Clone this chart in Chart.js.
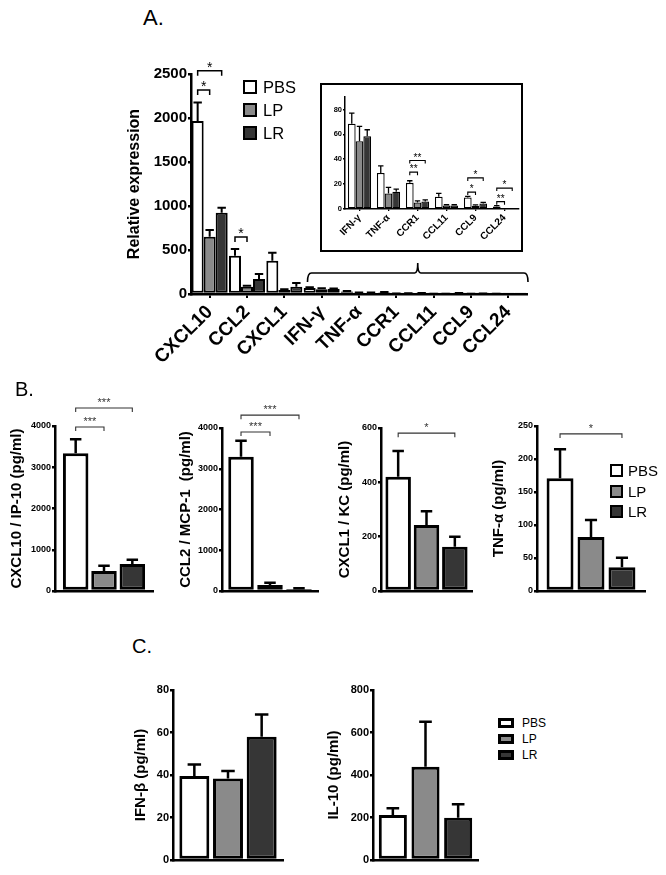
<!DOCTYPE html>
<html><head><meta charset="utf-8">
<script src="https://cdn.jsdelivr.net/npm/chart.js@4.4.0/dist/chart.umd.min.js"></script>
<style>
html,body{margin:0;padding:0;background:#fff;}
#wrap{position:relative;width:666px;height:875px;overflow:hidden;background:#fff;font-family:'Liberation Sans',Arial,Helvetica,sans-serif;color:#000;}
canvas{position:absolute;}
.lbl{position:absolute;line-height:1;white-space:nowrap;}
.box{position:absolute;box-sizing:border-box;border-style:solid;border-color:#000;}
</style></head>
<body><div id="wrap"></div>
<script>
// ---------------- DATA ----------------
const groups = ['PBS', 'LP', 'LR'];

// Panel A (relative expression)
const catsA = ['CXCL10', 'CCL2', 'CXCL1', 'IFN-γ', 'TNF-α', 'CCR1', 'CCL11', 'CCL9', 'CCL24'];
const pbsA = [1966, 435, 378, 68.5, 29, 21, 9.9, 9.3, 2.1];
const lpA  = [650, 83, 45, 54.4, 12.5, 5.3, 2.9, 2.7, 0.3];
const lrA  = [924, 170, 83, 58.4, 13.9, 6.1, 2.9, 4.5, 0.5];
const pbsAErr = [210, 76, 92, 8.5, 5.7, 1.7, 2.6, 0.8, 0.6];
const lpAErr  = [77, 10, 8, 12, 4.8, 1.2, 0.5, 0.6, 0];
const lrAErr  = [57, 57, 42, 5.3, 2.1, 1.2, 0.5, 0.8, 0];
const ticksA = [0, 500, 1000, 1500, 2000, 2500];
const ticksInset = [0, 20, 40, 60, 80];

// Panel B (pg/ml)
const catsB = ['CXCL10 / IP-10 (pg/ml)', 'CCL2 / MCP-1  (pg/ml)', 'CXCL1 / KC (pg/ml)', 'TNF-α (pg/ml)'];
const pbsB = [3338, 3297, 421, 170.7];
const lpB  = [485, 147, 243, 82];
const lrB  = [655, 49, 163, 35.8];
const pbsBErr = [339, 392, 94, 44];
const lpBErr  = [129, 57, 51, 25.6];
const lrBErr  = [105, 21, 37, 14.7];
const ticksB = [[0, 1000, 2000, 3000, 4000], [0, 1000, 2000, 3000, 4000], [0, 200, 400, 600], [0, 50, 100, 150, 200, 250]];

// Panel C (pg/ml)
const catsC = ['IFN-β (pg/ml)', 'IL-10 (pg/ml)'];
const pbsC = [39.5, 212];
const lpC  = [38.4, 439];
const lrC  = [58, 199];
const pbsCErr = [5.5, 31];
const lpCErr  = [3.5, 212];
const lrCErr  = [10.5, 63];
const ticksC = [[0, 20, 40, 60, 80], [0, 200, 400, 600, 800]];

// significance brackets (category, from-series, to-series, level, text)
const sigA = [{cat:0, from:0, to:1, y:2318, label:'*'}, {cat:0, from:0, to:2, y:2537, label:'*'}, {cat:1, from:0, to:1, y:648, label:'*'}];
const sigInset = [{cat:2, from:0, to:1, y:29.6, label:'**'}, {cat:2, from:0, to:2, y:39, label:'**'},
                  {cat:4, from:0, to:1, y:13.6, label:'*'}, {cat:4, from:0, to:2, y:25, label:'*'},
                  {cat:5, from:0, to:1, y:5.9, label:'**'}, {cat:5, from:0, to:2, y:16.8, label:'*'}];
const sigB = [
  [{cat:0, from:0, to:1, y:3976, label:'***'}, {cat:0, from:0, to:2, y:4436, label:'***'}],
  [{cat:0, from:0, to:1, y:3903, label:'***'}, {cat:0, from:0, to:2, y:4315, label:'***'}],
  [{cat:0, from:0, to:2, y:581, label:'*'}],
  [{cat:0, from:0, to:2, y:238, label:'*'}]
];

// ---------------- STYLE ----------------
const FILL = ['#ffffff', '#8a8a8a', '#363636'];
const FAM = "'Liberation Sans', Arial, Helvetica, sans-serif";
Chart.defaults.font.family = FAM;
Chart.defaults.color = '#000';
const wrap = document.getElementById('wrap');

const annot = {
  id: 'annot',
  afterDatasetsDraw(chart, args, o) {
    const ctx = chart.ctx, ys = chart.scales.y, xs = chart.scales.x, ca = chart.chartArea;
    ctx.save();
    chart.data.datasets.forEach((ds, di) => {
      const meta = chart.getDatasetMeta(di);
      meta.data.forEach((bar, i) => {
        const e = ds.errors ? ds.errors[i] : 0;
        if (!e) return;
        const v = ds.data[i];
        const yE = ys.getPixelForValue(v + e);
        const cap = bar.width * o.capRatio / 2;
        ctx.strokeStyle = '#000'; ctx.lineWidth = o.errWidth; ctx.lineCap = 'butt';
        ctx.beginPath();
        ctx.moveTo(bar.x, bar.y); ctx.lineTo(bar.x, yE);
        ctx.moveTo(bar.x - cap, yE); ctx.lineTo(bar.x + cap, yE);
        ctx.stroke();
      });
    });
    (o.brackets || []).forEach(b => {
      const x1 = chart.getDatasetMeta(b.from).data[b.cat].x;
      const x2 = chart.getDatasetMeta(b.to).data[b.cat].x;
      const yy = ys.getPixelForValue(b.y);
      ctx.strokeStyle = o.brColor; ctx.lineWidth = o.brWidth;
      ctx.beginPath();
      ctx.moveTo(x1, yy + o.tick); ctx.lineTo(x1, yy); ctx.lineTo(x2, yy); ctx.lineTo(x2, yy + o.tick);
      ctx.stroke();
      ctx.fillStyle = o.brColor;
      ctx.font = o.starSize + 'px ' + FAM;
      ctx.textAlign = 'center'; ctx.textBaseline = 'alphabetic';
      ctx.fillText(b.label, (x1 + x2) / 2, yy - o.starGap + 0.58 * o.starSize);
    });
    if (o.brace) {
      const cw = xs.getPixelForValue(1) - xs.getPixelForValue(0);
      const bx1 = xs.getPixelForValue(o.brace.fromCat) - cw * 0.38;
      const bx2 = ca.right + 1;
      const by = ca.bottom - o.brace.dy;
      const mid = (bx1 + bx2) / 2;
      ctx.strokeStyle = '#000'; ctx.lineWidth = 1.6;
      ctx.beginPath();
      ctx.moveTo(bx1, by + 9);
      ctx.quadraticCurveTo(bx1, by, bx1 + 4, by);
      ctx.lineTo(mid - 3, by);
      ctx.quadraticCurveTo(mid, by, mid, by - 10);
      ctx.quadraticCurveTo(mid, by, mid + 3, by);
      ctx.lineTo(bx2 - 4, by);
      ctx.quadraticCurveTo(bx2, by, bx2, by + 9);
      ctx.stroke();
    }
    ctx.restore();
  }
};

function datasets(series, errs, bw) {
  return groups.map((g, i) => ({
    label: g, data: series[i], errors: errs[i],
    backgroundColor: FILL[i], borderColor: '#000', borderWidth: bw, borderSkipped: false
  }));
}

function yScale(g, s) {
  return {
    min: 0, max: s.max,
    afterBuildTicks: sc => { sc.ticks = s.ticks.map(v => ({value: v})); },
    ticks: {font: {size: s.tickSize, weight: 'bold'}, color: '#000', padding: s.tickPad, callback: v => String(v)},
    grid: {display: true, drawOnChartArea: false, drawTicks: true, tickLength: s.tickLen, color: '#000', lineWidth: s.axisW},
    border: {display: true, color: '#000', width: s.axisW},
    title: s.title ? {display: true, text: s.title, color: '#000', font: {size: s.titleSize, weight: 'bold'},
                      padding: {top: s.titlePad, bottom: 0}} : {display: false},
    afterFit: sc => { sc.width = g.l - g.L; }
  };
}

function makeChart(g, labels, ds, xOpts, yOpts, pluginOpts, catPct, barPct) {
  const cv = document.createElement('canvas');
  cv.width = g.W; cv.height = g.H;
  cv.style.left = g.L + 'px'; cv.style.top = g.T + 'px';
  cv.style.width = g.W + 'px'; cv.style.height = g.H + 'px';
  wrap.appendChild(cv);
  xOpts.afterFit = sc => { sc.height = g.T + g.H - g.b; };
  return new Chart(cv, {
    type: 'bar',
    data: {labels: labels, datasets: ds},
    options: {
      responsive: false, animation: false, devicePixelRatio: 1,
      layout: {padding: {left: 0, top: g.t - g.T, right: g.L + g.W - g.r, bottom: 0}},
      datasets: {bar: {categoryPercentage: catPct, barPercentage: barPct}},
      plugins: {legend: {display: false}, tooltip: {enabled: false}, annot: pluginOpts},
      scales: {x: xOpts, y: yOpts}
    },
    plugins: [annot]
  });
}

function addText(txt, x, y, size, weight) {
  const d = document.createElement('div');
  d.className = 'lbl'; d.textContent = txt;
  d.style.left = x + 'px'; d.style.top = y + 'px'; d.style.fontSize = size + 'px';
  if (weight) d.style.fontWeight = weight;
  wrap.appendChild(d);
}
function addLegend(x, y0, dy, bw, bh, border, fs, gap) {
  groups.forEach((g, i) => {
    const b = document.createElement('div');
    b.className = 'box';
    b.style.left = x + 'px'; b.style.top = (y0 + i * dy) + 'px';
    b.style.width = bw + 'px'; b.style.height = bh + 'px';
    b.style.borderWidth = border + 'px'; b.style.background = FILL[i];
    wrap.appendChild(b);
    addText(g, x + bw + gap, y0 + i * dy + bh / 2 - fs * 0.5, fs);
  });
}

// ---------------- PANEL A ----------------
const gA = {L: 100, T: 40, W: 440, H: 340, l: 191, t: 74, r: 527, b: 294};
makeChart(gA, catsA, datasets([pbsA, lpA, lrA], [pbsAErr, lpAErr, lrAErr], 2),
  {ticks: {autoSkip: false, maxRotation: 45, minRotation: 45, font: {size: 19, weight: 'bold'}, color: '#000', padding: 3},
   grid: {display: true, drawOnChartArea: false, offset: false, drawTicks: true, tickLength: 4, color: '#000', lineWidth: 2},
   border: {display: true, color: '#000', width: 2.5}},
  yScale(gA, {max: 2500, ticks: ticksA, tickSize: 15, tickPad: 1, tickLen: 3, axisW: 2.5,
              title: 'Relative expression', titleSize: 16, titlePad: 25}),
  {capRatio: 0.7, errWidth: 2, brackets: sigA, brColor: '#000', brWidth: 1.5, tick: 5, starSize: 14, starGap: 7,
   brace: {fromCat: 3, dy: 21}},
  0.965, 1.0);

// inset
const inBox = document.createElement('div');
inBox.className = 'box';
inBox.style.cssText += 'left:320px;top:83px;width:203px;height:169px;border-width:2px;background:#fff;';
wrap.appendChild(inBox);
const gI = {L: 322, T: 85, W: 199, H: 165, l: 345, t: 97, r: 519, b: 209};
makeChart(gI, catsA.slice(3),
  datasets([pbsA.slice(3), lpA.slice(3), lrA.slice(3)], [pbsAErr.slice(3), lpAErr.slice(3), lrAErr.slice(3)], 1.3),
  {ticks: {autoSkip: false, maxRotation: 45, minRotation: 45, font: {size: 10, weight: 'bold'}, color: '#000', padding: 1},
   grid: {display: true, drawOnChartArea: false, offset: false, drawTicks: true, tickLength: 2, color: '#000', lineWidth: 1.3},
   border: {display: true, color: '#000', width: 1.5}},
  yScale(gI, {max: 90, ticks: ticksInset, tickSize: 7.5, tickPad: 1, tickLen: 2, axisW: 1.5}),
  {capRatio: 0.7, errWidth: 1.3, brackets: sigInset, brColor: '#000', brWidth: 1.1, tick: 3, starSize: 10, starGap: 5.5},
  0.8, 1.0);

addText('A.', 143, 7, 22);
addLegend(243, 80, 23, 14, 14, 2, 16.5, 6);

// ---------------- PANEL B ----------------
const gB = [
  {L: 0,   T: 395, W: 160, H: 210, l: 55,  t: 426, r: 153, b: 591, pad: 7.5, cat: 0.867, bar: 0.9},
  {L: 170, T: 395, W: 155, H: 210, l: 222, t: 428, r: 318, b: 591, pad: 7,   cat: 0.906, bar: 0.88},
  {L: 330, T: 395, W: 150, H: 210, l: 381, t: 428, r: 472, b: 591, pad: 5.5, cat: 0.934, bar: 0.9},
  {L: 485, T: 395, W: 165, H: 210, l: 537, t: 426, r: 645, b: 591, pad: 5,   cat: 0.86,  bar: 0.87}
];
gB.forEach((g, k) => {
  makeChart(g, [''],
    datasets([[pbsB[k]], [lpB[k]], [lrB[k]]], [[pbsBErr[k]], [lpBErr[k]], [lrBErr[k]]], 3),
    {ticks: {display: false}, grid: {display: false}, border: {display: true, color: '#000', width: 2.5}},
    yScale(g, {max: ticksB[k][ticksB[k].length - 1], ticks: ticksB[k], tickSize: 9, tickPad: 1, tickLen: 3, axisW: 2.5,
               title: catsB[k], titleSize: 15, titlePad: g.pad}),
    {capRatio: 0.45, errWidth: 2.5, brackets: sigB[k], brColor: '#333', brWidth: 1.1, tick: 4, starSize: 11, starGap: 8.5},
    g.cat, g.bar);
});
addText('B.', 15, 379, 20);
addLegend(610, 464, 20.5, 13, 13, 2, 15, 5);

// ---------------- PANEL C ----------------
const gC = [
  {L: 120, T: 670, W: 170, H: 205, l: 173, t: 690, r: 283, b: 860, pad: 12,  cat: 0.918, bar: 0.89},
  {L: 320, T: 670, W: 165, H: 205, l: 373, t: 690, r: 478, b: 860, pad: 4.5, cat: 0.933, bar: 0.86}
];
gC.forEach((g, k) => {
  makeChart(g, [''],
    datasets([[pbsC[k]], [lpC[k]], [lrC[k]]], [[pbsCErr[k]], [lpCErr[k]], [lrCErr[k]]], 3),
    {ticks: {display: false}, grid: {display: false}, border: {display: true, color: '#000', width: 2.5}},
    yScale(g, {max: ticksC[k][ticksC[k].length - 1], ticks: ticksC[k], tickSize: 11, tickPad: 1, tickLen: 3, axisW: 2.5,
               title: catsC[k], titleSize: 15, titlePad: g.pad}),
    {capRatio: 0.45, errWidth: 2.5, brackets: [], brColor: '#333', brWidth: 1.1, tick: 4, starSize: 11, starGap: 8.5},
    g.cat, g.bar);
});
addText('C.', 132, 636, 20);
addLegend(498, 718, 16, 16, 10, 3, 12, 8);
</script>
</body></html>
